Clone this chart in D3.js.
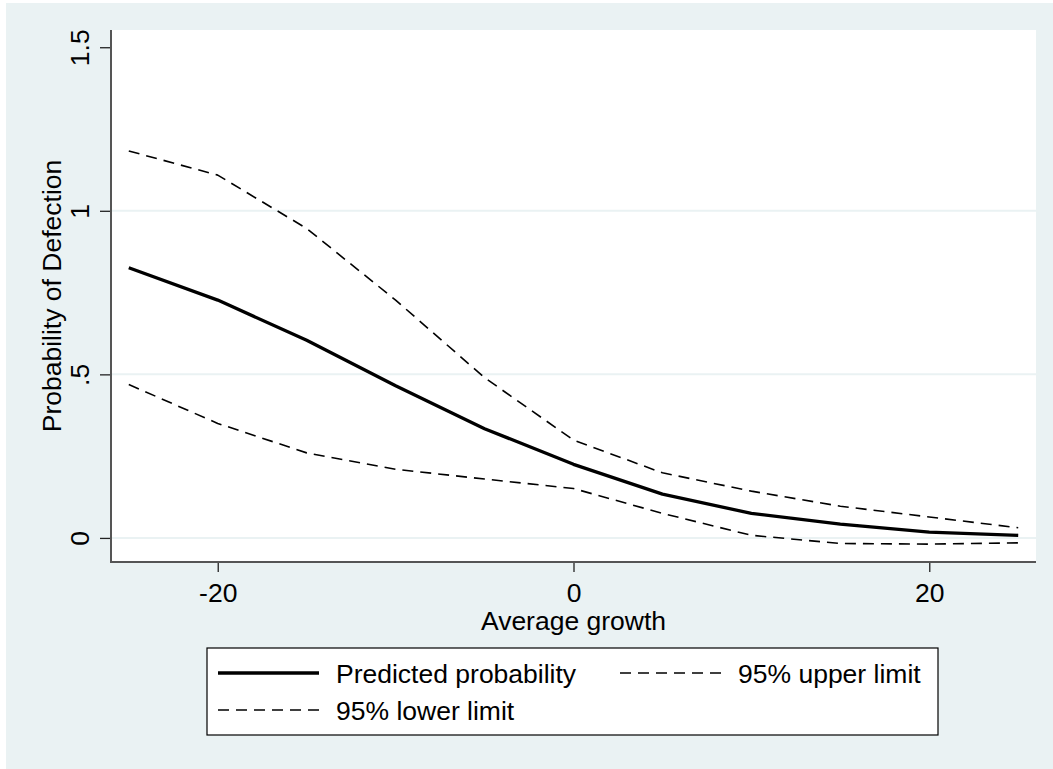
<!DOCTYPE html>
<html>
<head>
<meta charset="utf-8">
<script src="https://cdn.jsdelivr.net/npm/d3@7"></script>
<style>
  body { margin: 0; background: #fff; }
  text { font-family: "Liberation Sans", Arial, sans-serif; fill: #000; }
</style>
</head>
<body>
<div id="chart"></div>
<script>
// values
const growth    = [-25, -20, -15, -10, -5, 0, 5, 10, 15, 20, 25];
const predicted = [0.826, 0.727, 0.604, 0.465, 0.334, 0.225, 0.134, 0.075, 0.042, 0.018, 0.008];
const upper     = [1.183, 1.109, 0.946, 0.727, 0.49, 0.299, 0.199, 0.143, 0.097, 0.064, 0.031];
const lower     = [0.469, 0.35, 0.26, 0.21, 0.18, 0.151, 0.075, 0.008, -0.017, -0.019, -0.015];
const xTicks = [-20, 0, 20];
const xTickLabels = ["-20", "0", "20"];
const yTicks = [0, 0.5, 1, 1.5];
const yTickLabels = ["0", ".5", "1", "1.5"];
const legendLabels = ["Predicted probability", "95% upper limit", "95% lower limit"];

const width = 1053, height = 769;
const plot = {left: 111, right: 1036, top: 30, bottom: 562};
const bg = "#eaf2f3";
const dash = "11,7";

const svg = d3.select("#chart").append("svg")
    .attr("width", width)
    .attr("height", height);

// outer graph region
svg.append("rect")
    .attr("x", 6).attr("y", 3)
    .attr("width", width - 6).attr("height", height - 3)
    .attr("fill", bg);

// plot region
svg.append("rect")
    .attr("x", plot.left).attr("y", plot.top)
    .attr("width", plot.right - plot.left).attr("height", plot.bottom - plot.top)
    .attr("fill", "#fff");

const x = d3.scaleLinear().domain([-26, 26]).range([plot.left, plot.right]);
const y = d3.scaleLinear().domain([-0.0736, 1.5527]).range([plot.bottom, plot.top]);

// gridlines (not at the top tick)
svg.append("g").selectAll("line")
    .data(yTicks.filter(d => d < 1.5))
    .enter().append("line")
    .attr("x1", plot.left).attr("x2", plot.right)
    .attr("y1", d => y(d)).attr("y2", d => y(d))
    .attr("stroke", bg)
    .attr("stroke-width", 2);

// axes
const yAxis = svg.append("g")
    .attr("transform", `translate(${plot.left},0)`)
    .call(d3.axisLeft(y).tickValues(yTicks).tickSize(11).tickFormat((d, i) => yTickLabels[i]));
yAxis.select(".domain").remove();
yAxis.selectAll(".tick line").attr("stroke", "#222").attr("stroke-width", 1.3);
yAxis.selectAll(".tick text")
    .attr("x", null).attr("dy", null)
    .attr("transform", "translate(-22,0) rotate(-90)")
    .style("text-anchor", "middle")
    .style("font-size", "26.5px");

const xAxis = svg.append("g")
    .attr("transform", `translate(0,${plot.bottom})`)
    .call(d3.axisBottom(x).tickValues(xTicks).tickSize(10).tickFormat((d, i) => xTickLabels[i]));
xAxis.select(".domain").remove();
xAxis.selectAll(".tick line").attr("stroke", "#222").attr("stroke-width", 1.3);
xAxis.selectAll(".tick text")
    .attr("y", 40).attr("dy", null)
    .style("font-size", "26.5px");

// axis lines on left and bottom
svg.append("path")
    .attr("d", `M${plot.left},${plot.top}V${plot.bottom}H${plot.right}`)
    .attr("fill", "none")
    .attr("stroke", "#555")
    .attr("stroke-width", 2);

// axis titles
svg.append("text")
    .attr("transform", `translate(61,${(plot.top + plot.bottom) / 2}) rotate(-90)`)
    .style("text-anchor", "middle")
    .style("font-size", "26.5px")
    .text("Probability of Defection");

svg.append("text")
    .attr("x", (plot.left + plot.right) / 2).attr("y", 630)
    .style("text-anchor", "middle")
    .style("font-size", "26.5px")
    .text("Average growth");

// lines
const line = d3.line().x(d => x(d[0])).y(d => y(d[1]));
const series = [
    {vals: predicted, w: 3.3, dash: null},
    {vals: upper, w: 1.6, dash: dash},
    {vals: lower, w: 1.6, dash: dash}
];
series.forEach(s => {
    svg.append("path")
        .datum(growth.map((g, i) => [g, s.vals[i]]))
        .attr("d", line)
        .attr("fill", "none")
        .attr("stroke", "#000")
        .attr("stroke-width", s.w)
        .attr("stroke-linejoin", "round")
        .attr("stroke-dasharray", s.dash);
});

// legend
svg.append("rect")
    .attr("x", 207).attr("y", 648)
    .attr("width", 731).attr("height", 87)
    .attr("fill", "#fff")
    .attr("stroke", "#000")
    .attr("stroke-width", 1.2);

const legendPos = [
    {x: 218, y: 673},
    {x: 620, y: 673},
    {x: 218, y: 710}
];
legendLabels.forEach((lab, i) => {
    const p = legendPos[i];
    svg.append("line")
        .attr("x1", p.x).attr("x2", p.x + 101)
        .attr("y1", p.y).attr("y2", p.y)
        .attr("stroke", "#000")
        .attr("stroke-width", series[i].w)
        .attr("stroke-dasharray", series[i].dash);
    svg.append("text")
        .attr("x", p.x + 118).attr("y", p.y + 10)
        .style("font-size", "26.5px")
        .text(lab);
});
</script>
</body>
</html>
